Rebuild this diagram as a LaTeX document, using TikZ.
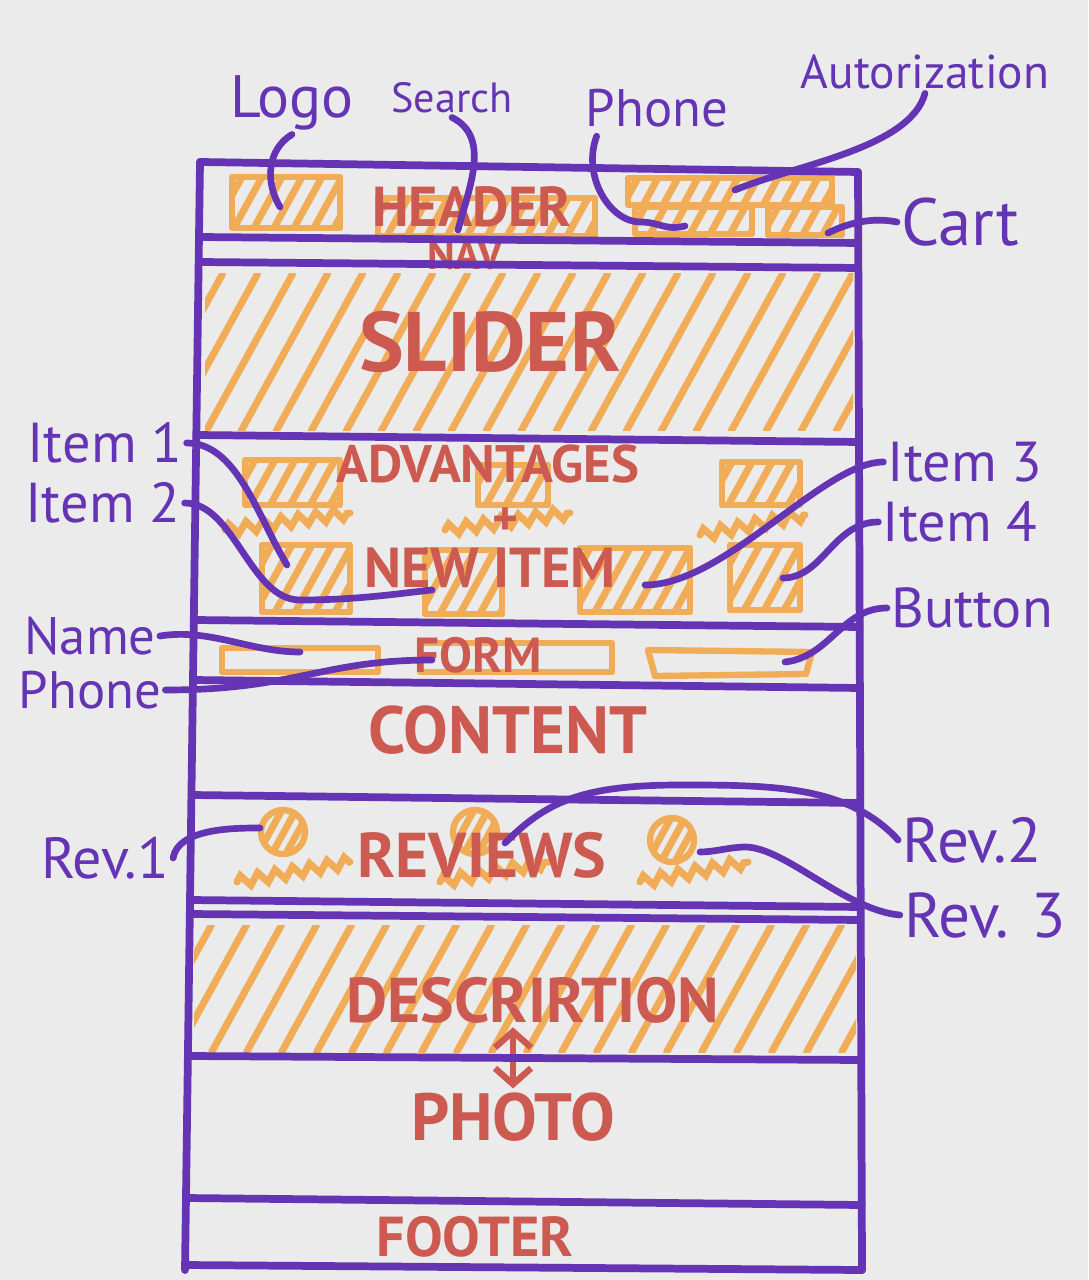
\documentclass[tikz,border=0pt]{standalone}
\usepackage{fontspec}
\setmainfont{PT Sans}
\usetikzlibrary{positioning, calc, arrows.meta, decorations.pathmorphing}

\definecolor{paper}{RGB}{234,235,234}
\definecolor{pen}{RGB}{100,52,180}
\definecolor{ink}{RGB}{204,90,80}
\definecolor{marker}{RGB}{240,172,86}

\newcommand{\pensize}[1]{\fontsize{#1}{#1}\selectfont}

\begin{document}
\begin{tikzpicture}[
    x=0.01cm, y=-0.01cm,
    frameline/.style={
        draw=pen,
        line width=2.2pt,
        line cap=round
    },
    markline/.style={
        draw=marker,
        line width=2pt,
        line cap=round
    },
    boxline/.style={
        draw=marker,
        line width=1.8pt,
        line join=round
    },
    squiggle/.style={
        markline,
        decorate,
        decoration={zigzag, segment length=5pt, amplitude=1.6pt}
    },
    section/.style={text=ink, inner sep=1pt},
    note/.style={text=pen, inner sep=1pt},
    lead/.style={draw=pen, line width=1.9pt, line cap=round},
    arrow/.style={
        {Straight Barb[length=1.6mm, width=3.6mm]}-{Straight Barb[length=1.6mm, width=3.6mm]},
        draw=ink, line width=1.8pt
    }
]

% Macro: hatch a box with slanted marker strokes
\newcommand{\hatchbox}[5]{%
  \begin{scope}
    \clip (#1,#2) rectangle (#3,#4);
    \pgfmathsetmacro{\hh}{(#4)-(#2)}
    \pgfmathsetmacro{\hsx}{(#1)-0.55*\hh}
    \pgfmathtruncatemacro{\hatchn}{((#3)-\hsx)/#5}
    \foreach \i in {0,...,\hatchn}
      \draw[markline] (\hsx+\i*#5+#5/2,#4) -- ++(0.55*\hh,-\hh);
  \end{scope}}

% Paper
\useasboundingbox (0,0) rectangle (1088,1280);
\fill[paper] (0,0) rectangle (1088,1280);

% Header blocks
\foreach \a/\b/\c/\d in {232/177/340/228, 378/198/595/236, 628/178/832/205,
                         635/207/752/234, 768/207/842/235} {
  \draw[boxline] (\a,\b) rectangle (\c,\d);
  \hatchbox{\a}{\b}{\c}{\d}{20}
}

% Slider and description fills
\hatchbox{205}{274}{853}{431}{35}
\hatchbox{194}{925}{856}{1052}{35}

% Advantages + new items
\foreach \a/\b/\c/\d in {245/460/340/505, 478/465/548/505, 722/462/800/505,
                         262/545/350/612, 425/550/502/614, 580/548/690/612,
                         730/545/800/610} {
  \draw[boxline] (\a,\b) rectangle (\c,\d);
  \hatchbox{\a}{\b}{\c}{\d}{20}
}
\draw[squiggle] (225,530) -- (350,513);
\draw[squiggle] (445,530) -- (570,513);
\draw[squiggle] (700,535) -- (805,515);

% Form fields
\draw[boxline] (222,648) rectangle (378,672);
\draw[boxline] (420,643) rectangle (612,672);
\draw[boxline] (648,650) -- (812,652) -- (806,674) -- (655,676) -- cycle;

% Reviews
\foreach \cx/\cy in {283/832, 475/832, 672/840} {
  \begin{scope}
    \clip (\cx,\cy) circle [radius=22];
    \hatchbox{\cx-22}{\cy-22}{\cx+22}{\cy+22}{14}
  \end{scope}
  \draw[boxline] (\cx,\cy) circle [radius=22];
}
\draw[squiggle] (237,882) -- (350,862);
\draw[squiggle] (440,882) -- (548,862);
\draw[squiggle] (640,882) -- (748,862);

% Section titles
\node[section, font=\bfseries\pensize{16}] (header) at (472,207) {HEADER};
\node[section, font=\bfseries\pensize{12}] (nav) at (465,255) {NAV};
\node[section, font=\bfseries\pensize{24}] (slider) at (490,342) {SLIDER};
\node[section, font=\bfseries\pensize{15}] (advant) at (488,464) {ADVANTAGES};
\node[section, font=\bfseries\pensize{14}, inner sep=0pt] (plus) at (505,522) {+};
\node[section, font=\bfseries\pensize{16}] (newitem) at (490,568) {NEW ITEM};
\node[section, font=\bfseries\pensize{14}] (form) at (478,655) {FORM};
\node[section, font=\bfseries\pensize{19}] (content) at (508,730) {CONTENT};
\node[section, font=\bfseries\pensize{18}] (reviews) at (482,855) {REVIEWS};
\node[section, font=\bfseries\pensize{18}] (descr) at (533,1000) {DESCRIRTION};
\node[section, font=\bfseries\pensize{19}] (photo) at (513,1117) {PHOTO};
\node[section, font=\bfseries\pensize{16}] (footer) at (475,1237) {FOOTER};

\draw[arrow] (descr.south -| photo.north) -- (photo.north);

% Page frame
\draw[frameline] (200,162) -- (185,1270);
\draw[frameline] (858,172) -- (862,1270);
\foreach \yl/\yr in {162/172, 237/243, 262/268, 435/442, 620/627, 680/688,
                     795/803, 900/907, 914/920, 1056/1060, 1198/1205, 1265/1270} {
  \pgfmathsetmacro{\xl}{200-(\yl-162)/1108*15}
  \pgfmathsetmacro{\xr}{858+(\yr-172)/1098*4}
  \draw[frameline] (\xl,\yl) -- (\xr,\yr);
}

% Annotations
\node[note, font=\pensize{17}] (logo) at (292,103) {Logo};
\node[note, font=\pensize{12}] (search) at (452,98) {Search};
\node[note, font=\pensize{15}] (phoneTop) at (657,108) {Phone};
\node[note, font=\pensize{13.5}] (autor) at (925,72) {Autorization};
\node[note, font=\pensize{19}] (cart) at (960,222) {Cart};
\node[note, font=\pensize{16}] (item1) at (105,443) {Item 1};
\node[note, font=\pensize{16}] (item2) at (103,503) {Item 2};
\node[note, font=\pensize{16}] (item3) at (965,462) {Item 3};
\node[note, font=\pensize{16}] (item4) at (960,522) {Item 4};
\node[note, font=\pensize{16}] (button) at (972,608) {Button};
\node[note, font=\pensize{15}] (name) at (90,636) {Name};
\node[note, font=\pensize{15}] (phoneForm) at (90,690) {Phone};
\node[note, font=\pensize{16.5}] (rev1) at (105,858) {Rev.1};
\node[note, font=\pensize{18}] (rev2) at (972,840) {Rev.2};
\node[note, font=\pensize{18}] (rev3) at (985,915) {Rev. 3};

% Connector ends
\coordinate (logoEnd) at (280,207);
\coordinate (searchEnd) at (458,230);
\coordinate (phoneEnd) at (685,226);
\coordinate (autorEnd) at (735,190);
\coordinate (cartEnd) at (828,233);
\coordinate (item1End) at (287,565);
\coordinate (item2End) at (432,590);
\coordinate (item3End) at (645,585);
\coordinate (item4End) at (783,578);
\coordinate (buttonEnd) at (785,662);
\coordinate (nameEnd) at (300,652);
\coordinate (phoneFormEnd) at (432,660);
\coordinate (rev1End) at (260,828);
\coordinate (rev2End) at (505,843);
\coordinate (rev3End) at (700,852);

% Connectors
\draw[lead] (logo.south) .. controls +(-25,15) and +(-15,-25) .. (logoEnd);
\draw[lead] (search.south) .. controls +(40,20) and +(10,-40) .. (searchEnd);
\draw[lead] ($(phoneTop.south west)+(15,5)$) .. controls +(-15,40) and +(-30,0) .. (640,222)
    .. controls +(20,0) and +(-20,5) .. (phoneEnd);
\draw[lead] (autor.south) .. controls +(-15,55) and +(60,-25) .. (autorEnd);
\draw[lead] (cart.west) .. controls +(-25,-5) and +(20,-10) .. (cartEnd);
\draw[lead] (item1.east) .. controls +(50,0) and +(-30,-50) .. (item1End);
\draw[lead] (item2.east) .. controls +(50,0) and +(-50,0) .. (300,600)
    .. controls +(60,0) and +(-30,3) .. (item2End);
\draw[lead] (item3.west) .. controls +(-60,0) and +(80,0) .. (item3End);
\draw[lead] (item4.west) .. controls +(-45,0) and +(40,0) .. (item4End);
\draw[lead] (button.west) .. controls +(-45,0) and +(45,-5) .. (buttonEnd);
\draw[lead] (name.east) .. controls +(50,-8) and +(-50,0) .. (nameEnd);
\draw[lead] (phoneForm.east) .. controls +(130,0) and +(-110,0) .. (phoneFormEnd);
\draw[lead] (rev1.east) .. controls +(5,-30) and +(-25,0) .. (rev1End);
\draw[lead] (rev2.west) .. controls +(-50,-55) and +(90,0) .. (680,785)
    .. controls +(-100,0) and +(40,-40) .. (rev2End);
\draw[lead] (rev3.west) .. controls +(-55,-5) and +(40,0) .. (745,847)
    .. controls +(-15,0) and +(15,0) .. (rev3End);

\end{tikzpicture}
\end{document}
